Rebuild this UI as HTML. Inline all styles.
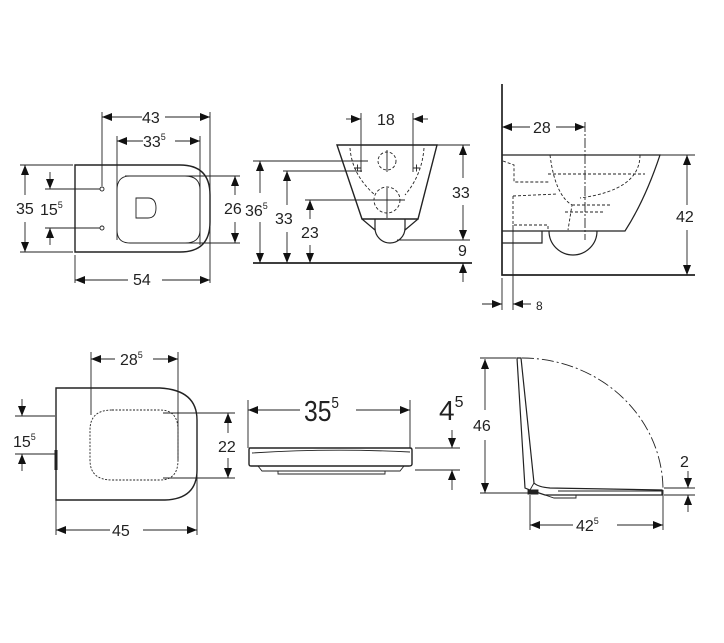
<!DOCTYPE html>
<html><head><style>html,body{margin:0;padding:0;background:#fff}svg{display:block}text{font-family:"Liberation Sans",sans-serif;fill:#222}</style></head><body>
<svg width="724" height="643" viewBox="0 0 724 643" xmlns="http://www.w3.org/2000/svg">
<defs><marker id="a" viewBox="0 0 10 8" refX="10" refY="4" markerWidth="11" markerHeight="8" markerUnits="userSpaceOnUse" orient="auto-start-reverse"><path d="M0 0L10 4L0 8z" fill="#111"/></marker></defs>
<g stroke="#222" stroke-width="0.9" fill="none">
<!-- top-left view -->
<path d="M75 165H180Q210 165 210 195V222Q210 252 180 252H75Z" stroke-width="1.4"/>
<path d="M125 176H185Q200 176 200 190V230Q200 243 185 243H130Q117 243 117 230V190Q117 176 130 176Z"/>
<path d="M136 198H148Q156 198 156 208Q156 218 148 218H136Z"/>
<circle cx="102" cy="189" r="2"/><circle cx="102" cy="228" r="2"/>
<path d="M102 112V186M210 112V283M117 136V240M200 136V245M20 165H73M20 252H73M45 189H100M45 228H100M185 176H240M185 243H240M75 255V283"/>
<path d="M102 117H142M165 117H210" marker-start="url(#a)" marker-end="url(#a)"/>
<path d="M117 141H143M175 141H200" marker-start="url(#a)" marker-end="url(#a)"/>
<path d="M25 165V195M25 222V252" marker-start="url(#a)" marker-end="url(#a)"/>
<path d="M50 172V189" marker-end="url(#a)"/>
<path d="M50 245V228" marker-end="url(#a)"/>
<path d="M235 176V195M235 222V243" marker-start="url(#a)" marker-end="url(#a)"/>
<path d="M75 280H128M162 280H210" marker-start="url(#a)" marker-end="url(#a)"/>
<!-- middle view -->
<path d="M337 145H437L418 219H362Z" stroke-width="1.4"/>
<path d="M362 219L375 230M418 219L405 230M375 219V228A15 15 0 0 0 405 228V219" stroke-width="1.2"/>
<path d="M350 148Q352 175 375 195M424 148Q422 175 405 195" stroke-dasharray="3 2"/>
<circle cx="387" cy="161" r="9" stroke-dasharray="3 2"/><circle cx="387" cy="200" r="13" stroke-dasharray="3 2"/>
<path d="M361 168h-7M357.5 164.5v7M413 168h7M416.5 164.5v7M387 150v22M387 188v30"/>
<path d="M253 263H472" stroke-width="1.7"/>
<path d="M361 113V172M413 113V172M253 161H368M283 171H362M305 200H405M437 145H470M397 240H470"/>
<path d="M346 119H361" marker-end="url(#a)"/>
<path d="M428 119H413" marker-end="url(#a)"/>
<path d="M260 161V193M260 222V263" marker-start="url(#a)" marker-end="url(#a)"/>
<path d="M287 171V205M287 232V263" marker-start="url(#a)" marker-end="url(#a)"/>
<path d="M310 200V219M310 245V263" marker-start="url(#a)" marker-end="url(#a)"/>
<path d="M463 145V178M463 205V240" marker-start="url(#a)" marker-end="url(#a)"/>
<path d="M463 282V263" marker-end="url(#a)"/>
<!-- right view -->
<path d="M502 84V275H695" stroke-width="1.7"/>
<path d="M502 155H660Q645 200 625 231H502M502 243H542V231M549 231A24 24 0 0 0 597 231" stroke-width="1.2"/>
<path d="M503 161L514 165V182H550M513 196L557 194M513 196V225H548V231M550 155Q555 195 572 205L568 230M640 155Q640 190 580 198M548 174H645M572 205H610M565 212H605" stroke-dasharray="3 2"/>
<path d="M585 122V240" stroke-dasharray="10 2 2 2"/>
<path d="M513 225V310M502 278V310M660 155H695"/>
<path d="M502 127H530M556 127H585" marker-start="url(#a)" marker-end="url(#a)"/>
<path d="M687 155V205M687 230V275" marker-start="url(#a)" marker-end="url(#a)"/>
<path d="M482 304H502" marker-end="url(#a)"/>
<path d="M531 304H513" marker-end="url(#a)"/>
<!-- bottom left -->
<path d="M56 388H160Q197 390 197 420V470Q197 499 165 500H56Z" stroke-width="1.4"/>
<path d="M56 450V470" stroke-width="3"/>
<path d="M112 410H160Q178 410 178 430V460Q178 480 160 480H112Q90 480 90 460V430Q90 410 112 410Z" stroke-dasharray="2 1.5"/>
<path d="M91 352V415M178 352V460M15 416H55M15 454H55M163 413H235M163 478H235M197 470V535M56 500V535"/>
<path d="M91 359H115M153 359H178" marker-start="url(#a)" marker-end="url(#a)"/>
<path d="M22 399V416" marker-end="url(#a)"/>
<path d="M22 471V454" marker-end="url(#a)"/>
<path d="M228 413V433M228 458V478" marker-start="url(#a)" marker-end="url(#a)"/>
<path d="M56 530H110M143 530H197" marker-start="url(#a)" marker-end="url(#a)"/>
<!-- seat -->
<path d="M250 448H410Q412 448 412 450V464Q412 466 409 466H251Q249 466 249 464V450Q249 448 250 448Z" stroke-width="1.4"/>
<path d="M252 453Q330 448 410 452M258 466L262 471H400L404 466M278 471V474H385V471"/>
<path d="M248 400V448M410 400V448M415 448H460M415 470H460"/>
<path d="M248 410H300M356 410H410" marker-start="url(#a)" marker-end="url(#a)"/>
<path d="M452 430V448" marker-end="url(#a)"/>
<path d="M452 490V470" marker-end="url(#a)"/>
<!-- lid -->
<path d="M517 358L521 358L534 483Q538 487 550 488L662 490V495L545 495L530 490L525 488Z" stroke-width="1.2"/>
<path d="M534 483L530 490M545 495L554 498H576V495M558 491H662"/>
<path d="M528 490H538V494H528Z" fill="#222"/>
<path d="M522 358A141 132 0 0 1 663 490" stroke-dasharray="12 3 2 3"/>
<path d="M480 358H516M480 493H528M530 495V530M663 490V530M664 488H695M664 495H695"/>
<path d="M485 359V410M485 440V493" marker-start="url(#a)" marker-end="url(#a)"/>
<path d="M688 471V488" marker-end="url(#a)"/>
<path d="M688 512V495" marker-end="url(#a)"/>
<path d="M530 525H573M617 525H663" marker-start="url(#a)" marker-end="url(#a)"/>
</g>
<g font-size="16">
<text x="142" y="123">43</text>
<text x="143" y="147">33<tspan font-size="9" dy="-7">5</tspan></text>
<text x="16" y="214">35</text>
<text x="40" y="215">15<tspan font-size="9" dy="-7">5</tspan></text>
<text x="224" y="214">26</text>
<text x="245" y="216">36<tspan font-size="9" dy="-7">5</tspan></text>
<text x="275" y="224">33</text>
<text x="301" y="238">23</text>
<text x="133" y="285">54</text>
<text x="377" y="125">18</text>
<text x="452" y="198">33</text>
<text x="458" y="256">9</text>
<text x="533" y="133">28</text>
<text x="676" y="222">42</text>
<text x="536" y="310" font-size="12">8</text>
<text x="120" y="365">28<tspan font-size="9" dy="-7">5</tspan></text>
<text x="13" y="447">15<tspan font-size="9" dy="-7">5</tspan></text>
<text x="218" y="452">22</text>
<text x="112" y="536">45</text>
<text x="473" y="431">46</text>
<text x="680" y="467">2</text>
<text x="576" y="531">42<tspan font-size="9" dy="-7">5</tspan></text>
</g>
<text x="304" y="421" font-size="29" transform="translate(304 0) scale(0.85 1) translate(-304 0)">35<tspan font-size="16" dy="-13">5</tspan></text>
<text x="439" y="420" font-size="28">4<tspan font-size="16" dy="-13">5</tspan></text>
</svg>
</body></html>
